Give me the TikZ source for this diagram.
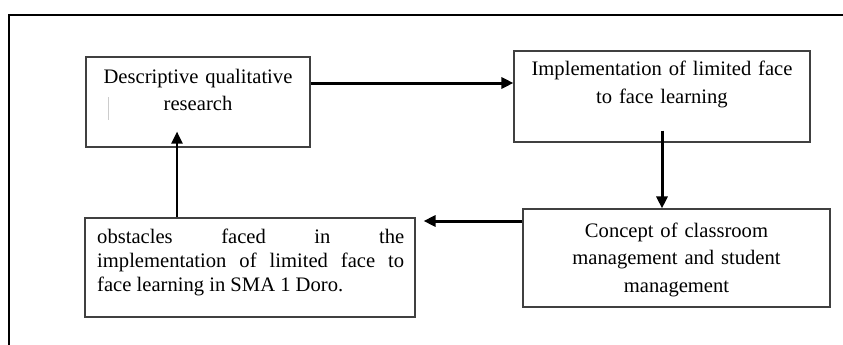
\documentclass[tikz,border=0pt]{standalone}
\usepackage{fontspec}
\setmainfont{Liberation Serif}
\usetikzlibrary{arrows.meta}
\begin{document}
\begin{tikzpicture}[x=1pt,y=-1pt,
  box/.style={draw=black!75,line width=1.1pt,inner sep=0pt},
  txt/.style={inner sep=0pt,text width=300pt,align=center,font=\fontsize{20.6}{27.5}\selectfont},
  flow/.style={line width=3pt,-{Triangle[length=12pt,width=11pt]}}]
\useasboundingbox (0,0) rectangle (843,345);
% outer frame, open to the right and bottom
\draw[line width=1.2pt] (843,15) -- (9,15) -- (9,345);
% boxes
\node[box,minimum width=224pt,minimum height=90pt] (desc) at (198,102) {};
\node[box,minimum width=296pt,minimum height=91pt] (impl) at (662,96.5) {};
\node[box,minimum width=307pt,minimum height=98pt] (conc) at (676.5,258) {};
\node[box,minimum width=330pt,minimum height=99pt] (obst) at (250,267.5) {};
% texts
\node[txt,anchor=base] (desct) at (198,83) {Descriptive qualitative\\research};
\node[txt,anchor=base] (implt) at (662,76) {Implementation of limited face\\to face learning};
\node[txt,anchor=base] (conct) at (676.5,237) {Concept of classroom\\management and student\\management};
\node[txt,anchor=base west,text width=307pt,align=justify,font=\fontsize{20.6}{24}\selectfont] (obstt) at (97,243)
  {\tolerance=10000\hyphenpenalty=10000 obstacles faced in the\linebreak implementation of limited face to\linebreak face learning in SMA 1 Doro.};
\draw[black!20,line width=0.8pt] (108,97) -- (108,120);
% arrows
\draw[flow] ([yshift=19pt]desc.east) -- ([yshift=19pt]desc.east -| impl.west);
\draw[flow] ([yshift=12pt]impl.south) -- (impl.south |- conc.north);
\draw[flow] ([yshift=37pt]conc.west) -- ([yshift=37pt,xshift=8pt]conc.west -| obst.east);
\draw[flow,line width=2.5pt] ([xshift=-73pt]obst.north) -- ([xshift=-73pt,yshift=16pt]obst.north |- desc.south);
\end{tikzpicture}
\end{document}
